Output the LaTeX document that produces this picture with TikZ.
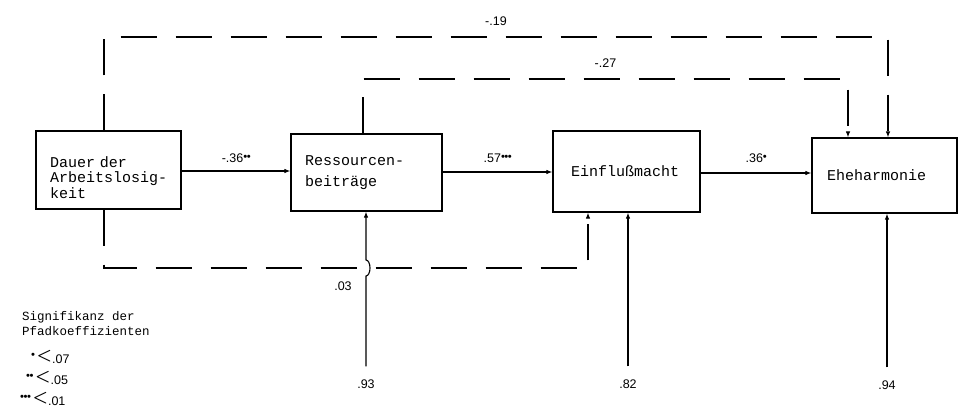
\documentclass[tikz,border=0pt]{standalone}
\usepackage{fontspec}
\setmainfont{Liberation Sans}
\setmonofont{Liberation Mono}
\usetikzlibrary{positioning, arrows.meta, calc}

\newcommand{\pkt}{\raisebox{.3ex}{\scalebox{.9}{\textbullet}}\kern-.5pt}
\newcommand{\kleiner}[1]{{\fontsize{19}{19}\selectfont\boldmath$<$}\raisebox{-.6ex}{#1}}

\begin{document}
\begin{tikzpicture}[x=1pt, y=-1pt,
  kasten/.style={draw, line width=1.2pt, inner ysep=0pt, align=left, font=\ttfamily\fontsize{15}{15.5}\selectfont},
  pfeil/.style={line width=1.1pt, -{Latex[length=6pt,width=4.5pt]}},
  strich/.style={pfeil, dash pattern=on 36pt off 19pt},
  zahl/.style={font=\fontsize{12.5}{12.5}\selectfont, inner sep=1pt}]
\useasboundingbox (0,0) rectangle (961,418);

% Variablen
\node[kasten, minimum width=145pt, minimum height=78pt, text width=117pt, inner xsep=14pt] (dauer) at (108.5,170) {\rule{0pt}{26pt}Dauer der\\Arbeitslosig-\\keit};
\node[kasten, minimum width=151pt, minimum height=77pt, text width=123pt, inner xsep=14pt] (ress) at (366.5,172.5) {Ressourcen-\\[6pt]beiträge};
\node[kasten, minimum width=147pt, minimum height=81pt, text width=111pt, inner xsep=18pt] (einfl) at (626.5,171.5) {Einflußmacht};
\node[kasten, minimum width=145pt, minimum height=75pt, text width=115pt, inner xsep=15pt] (ehe) at (884.5,175.5) {Eheharmonie};

% Residuen
\node[zahl] (r1) at (366,384) {.93};
\node[zahl] (r2) at (628,384) {.82};
\node[zahl] (r3) at (887,385) {.94};

% direkte Pfade
\draw[pfeil] (dauer.east |- 0,171) -- node[zahl, above=7pt] (p36) {-.36\pkt\pkt} (ress.west |- 0,171);
\draw[pfeil] (ress.east |- 0,172) -- node[zahl, above=8pt] (p57) {.57\pkt\pkt\pkt} (einfl.west |- 0,172);
\draw[pfeil] (einfl.east |- 0,173) -- node[zahl, above=9pt] (p35) {.36\pkt} (ehe.west |- 0,173);

% gestrichelte Pfade
\coordinate (a1) at ([xshift=-4.5pt]dauer.north);
\coordinate (o1) at (888,37);
\draw[strich] (a1) |- node[zahl, pos=0.75, above=10pt] (p19) {-.19} (o1) -- (o1 |- ehe.north);

\coordinate (a2) at ([xshift=-3.5pt]ress.north);
\coordinate (o2) at (848,79);
\draw[strich] (a2) |- node[zahl, pos=0.75, above=10pt] (p27) {-.27} (o2) -- (o2 |- ehe.north);

\coordinate (a3) at ([xshift=-4.5pt]dauer.south);
\coordinate (u1) at (588,268);
\draw[strich] (a3) |- (u1) -- (u1 |- einfl.south);
\node[zahl] (p03) at (343,286) {.03};

% Residualpfeile
\coordinate (k) at (366,268);
\draw[pfeil, shorten <=12pt] (r1.north) -- ([yshift=-8pt]k) arc[start angle=-90, end angle=90, x radius=4pt, y radius=8pt] -- (k |- ress.south);
\draw[pfeil, shorten <=12pt] (r2.north) -- (r2.north |- einfl.south);
\draw[pfeil, shorten <=12pt] (r3.north) -- (r3.north |- ehe.south);

% Legende
\node[font=\ttfamily\fontsize{12.5}{15}\selectfont, align=left, anchor=north west, inner sep=0pt] (leg) at (22,311) {Signifikanz der\\Pfadkoeffizienten};
\node[zahl, anchor=west] (s1) at (30,357) {\pkt\,\kleiner{.07}};
\node[zahl, anchor=west] (s2) at (25,378) {\pkt\pkt\,\kleiner{.05}};
\node[zahl, anchor=west] (s3) at (19,399) {\pkt\pkt\pkt\,\kleiner{.01}};
\end{tikzpicture}
\end{document}
